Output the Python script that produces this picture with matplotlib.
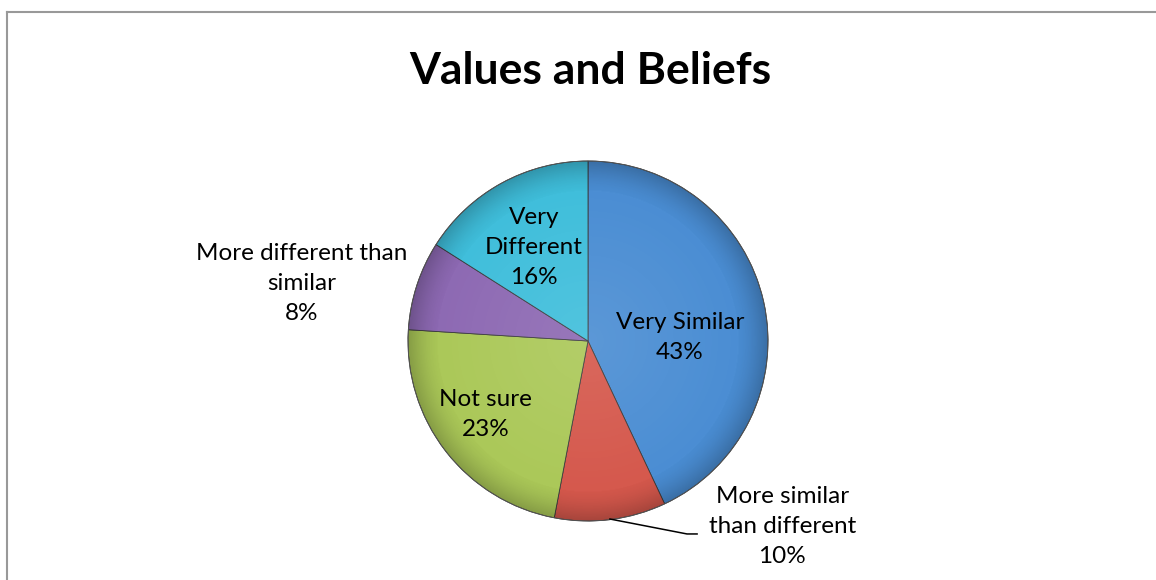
import numpy as np
import matplotlib
matplotlib.use("Agg")
import matplotlib.pyplot as plt
from matplotlib.lines import Line2D
from matplotlib.patches import Circle

plt.rcParams['font.family'] = ['Lato', 'DejaVu Sans']

# data
categories = ['Very Similar', 'More similar\nthan different', 'Not sure',
              'More different than\nsimilar', 'Very\nDifferent']
shares = [43, 10, 23, 8, 16]
colors = ['#4A8DD3', '#D5584C', '#ABC858', '#8D69B3', '#3FBEDB']
# label centres (pie radius = 1)
label_pos = [(0.51, 0.02), (1.08, -1.03), (-0.57, -0.41), (-1.59, 0.32), (-0.30, 0.52)]

W, H = 1156, 580
cx, cy, R = 588, 341, 180  # pixel centre/radius of the pie

fig = plt.figure(figsize=(W / 100, H / 100), dpi=100)
ax = fig.add_axes([0, 0, 1, 1])

wedges, _ = ax.pie(shares, colors=colors, startangle=90, counterclock=False,
                   radius=1, wedgeprops=dict(edgecolor='#3a3a3a', linewidth=0.6))

ax.set_xlim(-cx / R, (W - cx) / R)
ax.set_ylim(-(H - cy) / R, cy / R)
ax.set_aspect('auto')
ax.axis('off')

# soft shading so the pie looks a bit like the office 3d style
n = 400
g = np.linspace(-1, 1, n)
xx, yy = np.meshgrid(g, g)
rr = np.sqrt(xx ** 2 + yy ** 2)
shade = np.zeros((n, n, 4))
dark = np.clip((rr - 0.82) / 0.18, 0, 1) ** 1.5 * 0.22
light = np.clip(1 - rr / 0.9, 0, 1) * 0.10
shade[..., 3] = dark + light
shade[..., :3] = np.where((dark > light)[..., None], 0.0, 1.0)
im = ax.imshow(shade, extent=(-1, 1, -1, 1), origin='lower', zorder=3,
               interpolation='bilinear')
im.set_clip_path(Circle((0, 0), 1, transform=ax.transData))
ax.add_patch(Circle((0, 0), 1, fill=False, edgecolor='#555555', lw=0.6, zorder=4))

for cat, val, (lx, ly) in zip(categories, shares, label_pos):
    ax.text(lx, ly, f"{cat}\n{val}%", ha='center', va='center', fontsize=17.5,
            linespacing=1.55, color='black', zorder=5)

# leader line for the small red slice
ax.plot([0.122, 0.55, 0.606], [-0.989, -1.072, -1.072], color='black', lw=1.1, zorder=5)

fig.text(590 / W, 1 - 71 / H, 'Values and Beliefs', ha='center', va='center',
         fontsize=32, fontweight='bold')

# chart area border (top and left visible)
fig.add_artist(Line2D([7 / W, 1], [1 - 11.5 / H, 1 - 11.5 / H],
                      transform=fig.transFigure, color='#999999', lw=1.5))
fig.add_artist(Line2D([7 / W, 7 / W], [0, 1 - 11.5 / H],
                      transform=fig.transFigure, color='#999999', lw=1.5))

fig.savefig('out.png', dpi=100, facecolor='white')
